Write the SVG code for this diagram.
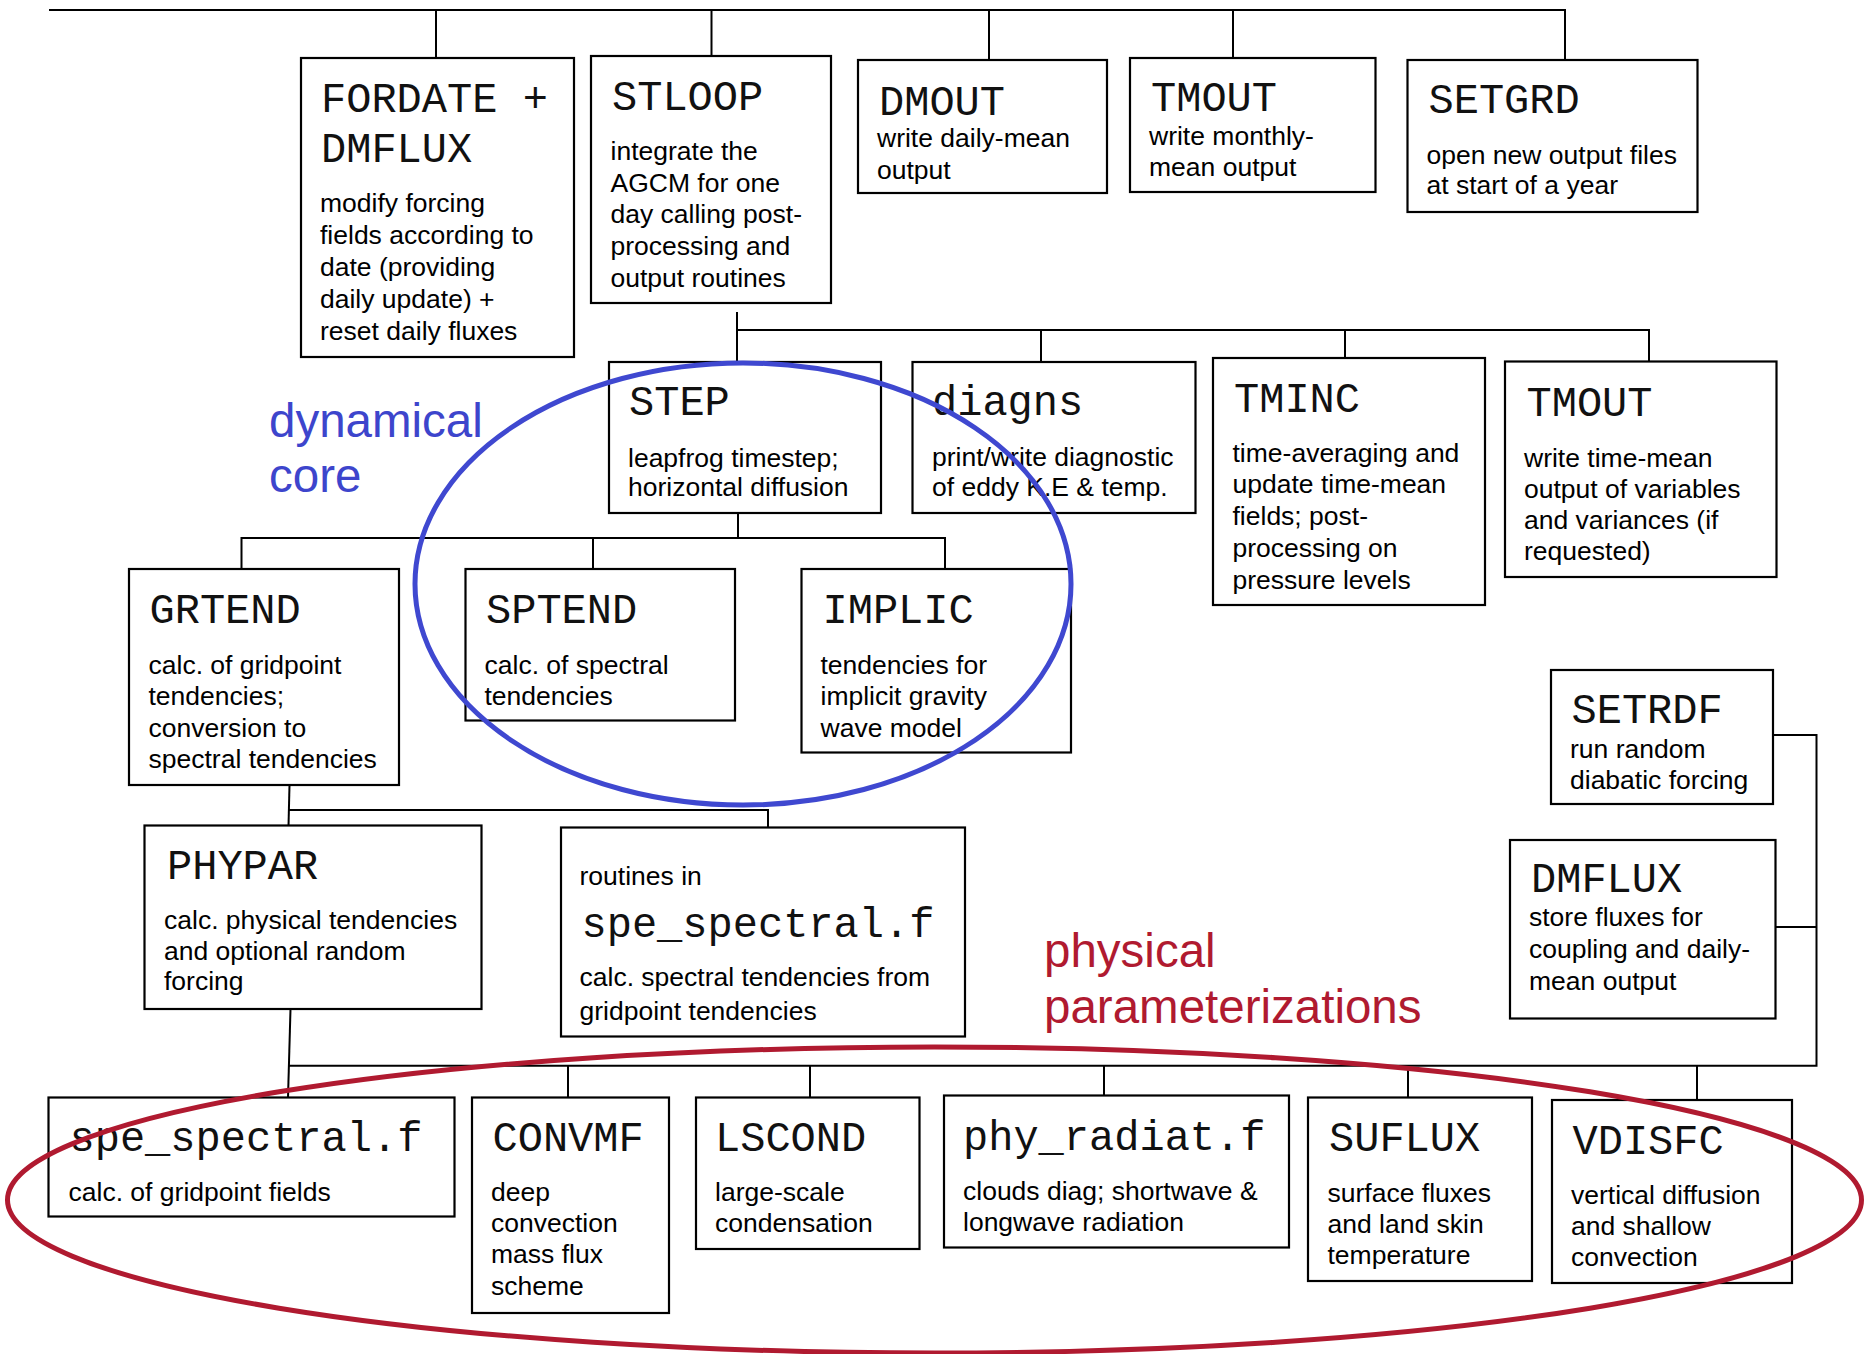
<svg xmlns="http://www.w3.org/2000/svg" width="1864" height="1354" viewBox="0 0 1864 1354">
<style>
.box{fill:#fff;stroke:#000;stroke-width:2.2}
.c{fill:none;stroke:#000;stroke-width:2}
.m{font-family:"Liberation Mono","Courier New",monospace;font-size:42px;fill:#111}
.t{font-family:"Liberation Sans",Arial,sans-serif;font-size:26.5px;fill:#000}
.blue{font-family:"Liberation Sans",Arial,sans-serif;font-size:47.5px;fill:#3d45cc}
.red{font-family:"Liberation Sans",Arial,sans-serif;font-size:47.5px;fill:#b01a30}
</style>
<rect width="1864" height="1354" fill="#fff"/>
<g id="connectors">
<polyline class="c" points="49,10 1565,10 1565,60"/>
<line class="c" x1="436" y1="10" x2="436" y2="58"/>
<line class="c" x1="711.5" y1="10" x2="711.5" y2="56"/>
<line class="c" x1="989" y1="10" x2="989" y2="60"/>
<line class="c" x1="1233" y1="10" x2="1233" y2="58"/>
<line class="c" x1="737" y1="312" x2="737" y2="362"/>
<polyline class="c" points="737,330 1649,330 1649,362"/>
<line class="c" x1="1041" y1="330" x2="1041" y2="362"/>
<line class="c" x1="1345" y1="330" x2="1345" y2="358"/>
<line class="c" x1="738" y1="513" x2="738" y2="538"/>
<polyline class="c" points="241.5,569 241.5,538 945,538 945,569"/>
<line class="c" x1="593" y1="538" x2="593" y2="569"/>
<line class="c" x1="289.5" y1="785" x2="288.5" y2="826"/>
<polyline class="c" points="289,810 768,810 768,827"/>
<line class="c" x1="290.5" y1="1009" x2="288" y2="1098"/>
<polyline class="c" points="288,1065.7 1816.5,1065.7 1816.5,735 1773,735"/>
<line class="c" x1="1775" y1="927" x2="1816.5" y2="927"/>
<line class="c" x1="568" y1="1065.7" x2="568" y2="1098"/>
<line class="c" x1="810" y1="1065.7" x2="810" y2="1098"/>
<line class="c" x1="1104" y1="1065.7" x2="1104" y2="1096"/>
<line class="c" x1="1408" y1="1065.7" x2="1408" y2="1098"/>
<line class="c" x1="1697" y1="1065.7" x2="1697" y2="1100"/>
</g>
<g id="FORDATE">
<rect class="box" x="301" y="58" width="273" height="299"/>
<text class="m" x="321" y="112">FORDATE +</text>
<text class="m" x="321" y="162">DMFLUX</text>
<text class="t" x="320" y="212">modify forcing</text>
<text class="t" x="320" y="244">fields according to</text>
<text class="t" x="320" y="276">date (providing</text>
<text class="t" x="320" y="307.5">daily update) +</text>
<text class="t" x="320" y="339.5">reset daily fluxes</text>
</g>
<g id="STLOOP">
<rect class="box" x="591" y="56" width="240" height="247"/>
<text class="m" x="612" y="110">STLOOP</text>
<text class="t" x="610.5" y="160">integrate the</text>
<text class="t" x="610.5" y="191.5">AGCM for one</text>
<text class="t" x="610.5" y="223">day calling post-</text>
<text class="t" x="610.5" y="255">processing and</text>
<text class="t" x="610.5" y="287">output routines</text>
</g>
<g id="DMOUT">
<rect class="box" x="858" y="60" width="249" height="133"/>
<text class="m" x="879" y="114.5">DMOUT</text>
<text class="t" x="877" y="147">write daily-mean</text>
<text class="t" x="877" y="178.5">output</text>
</g>
<g id="TMOUT">
<rect class="box" x="1130" y="58" width="245.5" height="134"/>
<text class="m" x="1151" y="111">TMOUT</text>
<text class="t" x="1149" y="145">write monthly-</text>
<text class="t" x="1149" y="176">mean output</text>
</g>
<g id="SETGRD">
<rect class="box" x="1407.5" y="60" width="290" height="152"/>
<text class="m" x="1428.5" y="113">SETGRD</text>
<text class="t" x="1426.5" y="163.5">open new output files</text>
<text class="t" x="1426.5" y="193.5">at start of a year</text>
</g>
<g id="STEP">
<rect class="box" x="609" y="362" width="272" height="151"/>
<text class="m" x="629" y="415">STEP</text>
<text class="t" x="628" y="466.5">leapfrog timestep;</text>
<text class="t" x="628" y="496">horizontal diffusion</text>
</g>
<g id="diagns">
<rect class="box" x="912.5" y="362" width="283" height="151"/>
<text class="m" x="932" y="415">diagns</text>
<text class="t" x="932" y="466">print/write diagnostic</text>
<text class="t" x="932" y="495.5">of eddy K.E &amp; temp.</text>
</g>
<g id="TMINC">
<rect class="box" x="1213" y="358" width="272" height="247"/>
<text class="m" x="1234" y="412">TMINC</text>
<text class="t" x="1232.5" y="461.5">time-averaging and</text>
<text class="t" x="1232.5" y="493">update time-mean</text>
<text class="t" x="1232.5" y="524.5">fields; post-</text>
<text class="t" x="1232.5" y="556.5">processing on</text>
<text class="t" x="1232.5" y="588.5">pressure levels</text>
</g>
<g id="TMOUT2">
<rect class="box" x="1505" y="361.5" width="271.5" height="215.5"/>
<text class="m" x="1526.5" y="415.5">TMOUT</text>
<text class="t" x="1524" y="466.5">write time-mean</text>
<text class="t" x="1524" y="497.5">output of variables</text>
<text class="t" x="1524" y="529">and variances (if</text>
<text class="t" x="1524" y="560">requested)</text>
</g>
<g id="GRTEND">
<rect class="box" x="129" y="569" width="270" height="216"/>
<text class="m" x="149.5" y="623">GRTEND</text>
<text class="t" x="148.5" y="673.5">calc. of gridpoint</text>
<text class="t" x="148.5" y="704.5">tendencies;</text>
<text class="t" x="148.5" y="736.5">conversion to</text>
<text class="t" x="148.5" y="767.5">spectral tendencies</text>
</g>
<g id="SPTEND">
<rect class="box" x="465.5" y="569" width="269.5" height="151.5"/>
<text class="m" x="486" y="623">SPTEND</text>
<text class="t" x="484.5" y="673.5">calc. of spectral</text>
<text class="t" x="484.5" y="704.5">tendencies</text>
</g>
<g id="IMPLIC">
<rect class="box" x="801.5" y="569" width="269.5" height="183.5"/>
<text class="m" x="822.5" y="623">IMPLIC</text>
<text class="t" x="820.5" y="673.5">tendencies for</text>
<text class="t" x="820.5" y="704.5">implicit gravity</text>
<text class="t" x="820.5" y="736.5">wave model</text>
</g>
<g id="PHYPAR">
<rect class="box" x="144.5" y="825.5" width="337" height="183.5"/>
<text class="m" x="167" y="879">PHYPAR</text>
<text class="t" x="164" y="928.5">calc. physical tendencies</text>
<text class="t" x="164" y="960">and optional random</text>
<text class="t" x="164" y="990">forcing</text>
</g>
<g id="SPE_ROUTINES">
<rect class="box" x="561" y="827.5" width="404" height="209"/>
<text class="t" x="579.5" y="885">routines in</text>
<text class="m" x="581.5" y="937">spe_spectral.f</text>
<text class="t" x="579.5" y="986">calc. spectral tendencies from</text>
<text class="t" x="579.5" y="1020">gridpoint tendencies</text>
</g>
<g id="SETRDF">
<rect class="box" x="1551" y="670" width="222" height="134"/>
<text class="m" x="1571.5" y="723">SETRDF</text>
<text class="t" x="1570" y="757.5">run random</text>
<text class="t" x="1570" y="788.5">diabatic forcing</text>
</g>
<g id="DMFLUX">
<rect class="box" x="1510" y="840" width="265.5" height="178.5"/>
<text class="m" x="1531" y="892">DMFLUX</text>
<text class="t" x="1529" y="925.5">store fluxes for</text>
<text class="t" x="1529" y="958">coupling and daily-</text>
<text class="t" x="1529" y="989.5">mean output</text>
</g>
<g id="SPE_SPECTRAL">
<rect class="box" x="48.5" y="1097.5" width="406" height="119"/>
<text class="m" x="69.5" y="1151">spe_spectral.f</text>
<text class="t" x="68.5" y="1200.5">calc. of gridpoint fields</text>
</g>
<g id="CONVMF">
<rect class="box" x="472" y="1097.5" width="197" height="215.5"/>
<text class="m" x="492.5" y="1151">CONVMF</text>
<text class="t" x="491" y="1200.5">deep</text>
<text class="t" x="491" y="1231.5">convection</text>
<text class="t" x="491" y="1263">mass flux</text>
<text class="t" x="491" y="1295">scheme</text>
</g>
<g id="LSCOND">
<rect class="box" x="696" y="1097.5" width="223.5" height="151.5"/>
<text class="m" x="715" y="1151">LSCOND</text>
<text class="t" x="715" y="1200.5">large-scale</text>
<text class="t" x="715" y="1231.5">condensation</text>
</g>
<g id="PHY_RADIAT">
<rect class="box" x="944" y="1095.5" width="345" height="152"/>
<text class="m" x="963" y="1150">phy_radiat.f</text>
<text class="t" x="963" y="1199.5">clouds diag; shortwave &amp;</text>
<text class="t" x="963" y="1230.5">longwave radiation</text>
</g>
<g id="SUFLUX">
<rect class="box" x="1308" y="1097.5" width="224" height="183.5"/>
<text class="m" x="1329" y="1151">SUFLUX</text>
<text class="t" x="1327.5" y="1201.5">surface fluxes</text>
<text class="t" x="1327.5" y="1232.5">and land skin</text>
<text class="t" x="1327.5" y="1263.5">temperature</text>
</g>
<g id="VDISFC">
<rect class="box" x="1552" y="1100" width="240" height="183"/>
<text class="m" x="1572.5" y="1153.5">VDISFC</text>
<text class="t" x="1571" y="1203.5">vertical diffusion</text>
<text class="t" x="1571" y="1234.5">and shallow</text>
<text class="t" x="1571" y="1266">convection</text>
</g>
<g id="labels">
<text class="blue" x="269" y="437">dynamical</text>
<text class="blue" x="269" y="492">core</text>
<text class="red" x="1044" y="967">physical</text>
<text class="red" x="1044" y="1023">parameterizations</text>
</g>
<g id="groupings">
<ellipse cx="743" cy="584" rx="328" ry="221" fill="none" stroke="#3f48d0" stroke-width="5"/>
<ellipse cx="934.5" cy="1200" rx="927" ry="153" fill="none" stroke="#b01a30" stroke-width="5"/>
</g>
</svg>
